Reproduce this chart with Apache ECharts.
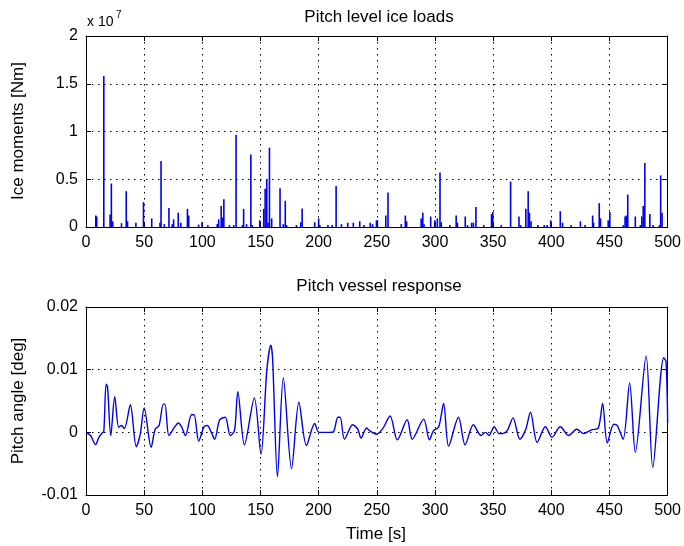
<!DOCTYPE html>
<html>
<head>
<meta charset="utf-8">
<script src="https://cdn.jsdelivr.net/npm/echarts@6/dist/echarts.min.js"></script>
<style>
  html, body { margin: 0; padding: 0; background: #fff; }
  #chart { width: 684px; height: 546px; }
</style>
</head>
<body>
<div id="chart"></div>
<script>
// Ice load impulses: time [s] and moment [x 1e7 Nm]
const loadTimes = [8.4, 9.2, 15.3, 20.7, 21.8, 23, 30.5, 34.6, 35.7, 42.9, 49.4, 56.5, 63.6, 64.5, 67.3, 71.3, 74.2, 75.3, 79.3, 81.5, 87.2, 88.3, 96.8, 99.7, 104.7, 112.8, 114, 116.2, 117.3, 118.5, 123.3, 127, 129, 134.4, 135.5, 138, 141.7, 143, 149.4, 152.8, 154, 155.4, 156.5, 157.7, 159.6, 166.8, 169.6, 171.3, 172.5, 180.9, 184.6, 185.8, 196.6, 200, 201, 208, 211.6, 215, 219.6, 225, 229.8, 235.3, 239, 244.3, 246.3, 249.7, 250.5, 257.7, 259.6, 271, 274.5, 275.6, 288.1, 289.5, 290.6, 296.3, 299.8, 302, 304.3, 305.4, 312.8, 318.2, 319.3, 326, 328, 331.5, 333, 335.2, 341.9, 348.6, 349.7, 357, 365, 372.2, 373.6, 378.1, 380.1, 381.2, 382.6, 388.5, 393.9, 396.4, 399.5, 407.7, 409.7, 417, 425, 429, 435.5, 436.3, 441.2, 442.3, 448.9, 450.3, 461.9, 463.4, 464.5, 465.7, 472.2, 476.5, 477.8, 479, 480.4, 484.7, 487.5, 492.9, 494, 495.2];
const loadValues = [0.12, 0.11, 1.58, 0.13, 0.455, 0.06, 0.04, 0.375, 0.06, 0.045, 0.26, 0.09, 0.045, 0.69, 0.03, 0.2, 0.03, 0.08, 0.15, 0.045, 0.19, 0.12, 0.025, 0.05, 0.02, 0.03, 0.08, 0.22, 0.1, 0.29, 0.02, 0.02, 0.965, 0.02, 0.19, 0.03, 0.76, 0.02, 0.07, 0.19, 0.4, 0.5, 0.045, 0.83, 0.09, 0.405, 0.03, 0.275, 0.02, 0.02, 0.05, 0.195, 0.05, 0.09, 0.02, 0.02, 0.02, 0.43, 0.03, 0.045, 0.045, 0.06, 0.02, 0.045, 0.03, 0.07, 0.07, 0.12, 0.36, 0.03, 0.12, 0.06, 0.09, 0.15, 0.03, 0.11, 0.07, 0.09, 0.57, 0.05, 0.02, 0.12, 0.045, 0.11, 0.02, 0.045, 0.045, 0.21, 0.02, 0.135, 0.157, 0.02, 0.475, 0.11, 0.02, 0.19, 0.375, 0.15, 0.06, 0.02, 0.02, 0.02, 0.07, 0.165, 0.045, 0.02, 0.06, 0.02, 0.12, 0.045, 0.25, 0.09, 0.07, 0.157, 0.02, 0.11, 0.12, 0.34, 0.11, 0.02, 0.11, 0.22, 0.67, 0.135, 0.02, 0.02, 0.54, 0.15];

// Pitch response: time [s] and angle [deg]
const pitchTimes = [0, 0.3, 3.9, 8.2, 11.1, 13.9, 15.3, 17.3, 18.5, 21.3, 24.7, 28.1, 30.4, 33, 38.1, 43.2, 46.6, 50, 56, 59.4, 62.8, 66.5, 67.9, 71.3, 76.4, 79.3, 82.1, 85.5, 90.7, 92.9, 96.9, 101.5, 104.3, 107.7, 110.6, 114.9, 119.7, 124, 127.7, 130.5, 136.2, 144.7, 150.4, 155.5, 158.9, 160.4, 164.6, 169.6, 176.7, 183, 189.5, 196.6, 200.3, 209.4, 212.8, 216.5, 218.5, 222.2, 229.3, 233.6, 236.4, 241.2, 243.5, 249.7, 254.8, 261.4, 267.6, 276.1, 280.4, 290.3, 295.2, 298.8, 303.1, 307.4, 311.7, 320.2, 325.9, 333, 339.5, 343.5, 346.4, 350.9, 355.1, 358, 362.2, 367.1, 373, 377.9, 382.1, 387.8, 394.9, 400.6, 407.7, 414.8, 421.9, 427.6, 434.7, 440.4, 444.1, 448.1, 453.7, 456.6, 461.7, 467.3, 472.2, 481.5, 487.2, 496.6, 498.6, 500];
const pitchValues = [0, 0, -0.0005, -0.00195, -0.0008, -0.0001, 0.0001, 0.0077, 0.0073, -0.0005, 0.0057, 0.0008, 0.0011, 0.0006, 0.0044, -0.0023, -0.0003, 0.0039, -0.0024, 0.0005, 0.0011, 0.0045, 0.0045, -0.0005, 0.0009, 0.0015, 0.0009, -0.0005, 0.0028, 0.0028, -0.0014, 0.0009, 0.0011, 0, -0.0011, 0.002, 0.0024, -0.0005, 0.0003, 0.0065, -0.002, 0.0055, -0.0035, 0.01, 0.0139, 0.0118, -0.0071, 0.0087, -0.0058, 0.0048, -0.0021, 0.0014, 0, 0, 0.0001, 0.0024, 0.0024, -0.0011, 0.0012, 0.0005, -0.0009, 0.0007, 0.0003, -0.0003, 0.0005, 0.0026, -0.0012, 0.002, -0.0011, 0.0021, -0.0012, 0.0003, 0.0008, 0.0046, -0.0022, 0.0024, -0.002, 0.0012, -0.0005, 0, -0.0005, 0.0009, -0.0002, -0.0002, 0.0003, 0.0023, -0.0011, 0.0004, 0.0032, -0.0016, 0.0009, -0.0008, 0.0009, -0.0005, 0.0005, -0.0002, 0.0004, 0.0007, 0.0046, -0.0017, 0.0013, 0.0011, -0.0011, 0.0079, -0.0032, 0.0122, -0.0056, 0.0119, 0.0113, 0.0015];

const timeTicks = { min: 0, max: 500, interval: 50 };
const loadTicks = { min: 0, max: 2, interval: 0.5 };
const pitchTicks = { min: -0.01, max: 0.02, interval: 0.01 };

const FONT = "'Liberation Sans', Arial, sans-serif";
const LINE_BLUE = '#0000ee';

const chart = echarts.init(document.getElementById('chart'), null, { renderer: 'canvas' });

const gridDots = { show: true, lineStyle: { color: '#000', width: 1, type: [1.5, 4.5] } };
const tickIn = { show: true, inside: true, length: 5, lineStyle: { color: '#000' } };
const axisLineBlack = { show: true, onZero: false, lineStyle: { color: '#000', width: 1 } };
const labelStyle = { color: '#000', fontSize: 16, fontFamily: FONT };

function xMain(gridIndex) {
  return {
    type: 'value', gridIndex, position: 'bottom', ...timeTicks,
    axisLine: axisLineBlack, axisTick: tickIn, splitLine: gridDots,
    axisLabel: { ...labelStyle, margin: 8 }
  };
}
function xTop(gridIndex) {
  return {
    type: 'value', gridIndex, position: 'top', ...timeTicks,
    axisLine: axisLineBlack, axisTick: tickIn, splitLine: { show: false },
    axisLabel: { show: false }
  };
}
function yMain(gridIndex, ticks) {
  return {
    type: 'value', gridIndex, position: 'left', ...ticks,
    axisLine: axisLineBlack, axisTick: tickIn, splitLine: gridDots,
    axisLabel: { ...labelStyle, margin: 8 }
  };
}
function yRight(gridIndex, ticks) {
  return {
    type: 'value', gridIndex, position: 'right', ...ticks,
    axisLine: axisLineBlack, axisTick: tickIn, splitLine: { show: false },
    axisLabel: { show: false }
  };
}

const textStyle = (size) => ({ fill: '#000', font: size + 'px ' + FONT });

chart.setOption({
  backgroundColor: '#fff',
  animation: false,
  grid: [
    { left: 86, right: 12, top: 36, height: 191 },
    { left: 86, right: 12, top: 307, height: 188 }
  ],
  xAxis: [xMain(0), xTop(0), xMain(1), xTop(1)],
  yAxis: [yMain(0, loadTicks), yRight(0, loadTicks), yMain(1, pitchTicks), yRight(1, pitchTicks)],
  series: [
    {
      type: 'bar', xAxisIndex: 0, yAxisIndex: 0, barWidth: 1.6,
      itemStyle: { color: LINE_BLUE },
      data: loadTimes.map((t, i) => [t, loadValues[i]])
    },
    {
      type: 'line', xAxisIndex: 2, yAxisIndex: 2, smooth: 0.3, showSymbol: false,
      lineStyle: { color: LINE_BLUE, width: 1.4 },
      data: pitchTimes.map((t, i) => [t, pitchValues[i]])
    }
  ],
  graphic: [
    { type: 'text', style: { ...textStyle(17), text: 'Pitch level ice loads', x: 379, y: 17, textAlign: 'center', textVerticalAlign: 'middle' } },
    { type: 'text', style: { ...textStyle(17), text: 'Pitch vessel response', x: 379, y: 286, textAlign: 'center', textVerticalAlign: 'middle' } },
    { type: 'text', style: { ...textStyle(17), text: 'Time [s]', x: 376, y: 534, textAlign: 'center', textVerticalAlign: 'middle' } },
    { type: 'text', x: 18, y: 131, rotation: Math.PI / 2, style: { ...textStyle(17), text: 'Ice moments [Nm]', x: 0, y: 0, textAlign: 'center', textVerticalAlign: 'middle' } },
    { type: 'text', x: 18, y: 401, rotation: Math.PI / 2, style: { ...textStyle(17), text: 'Pitch angle [deg]', x: 0, y: 0, textAlign: 'center', textVerticalAlign: 'middle' } },
    { type: 'text', style: { ...textStyle(14), text: 'x 10', x: 87, y: 29, textAlign: 'left', textVerticalAlign: 'bottom' } },
    { type: 'text', style: { ...textStyle(10), text: '7', x: 116, y: 20, textAlign: 'left', textVerticalAlign: 'bottom' } }
  ]
});
</script>
</body>
</html>
